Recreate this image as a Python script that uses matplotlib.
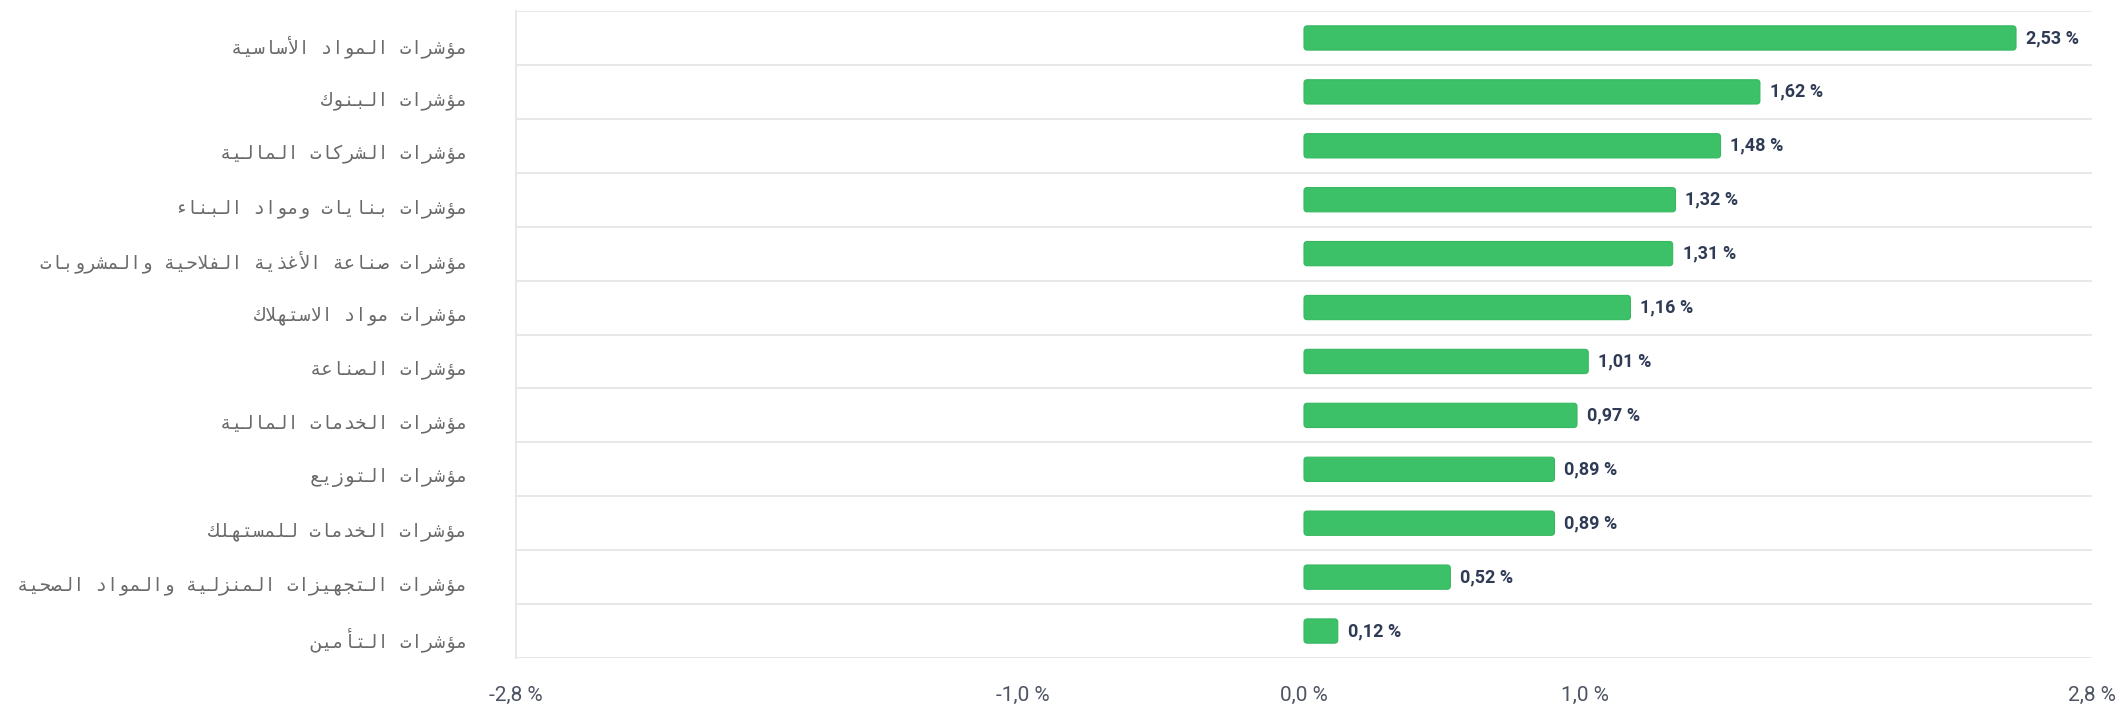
import matplotlib
matplotlib.use("Agg")
import matplotlib.pyplot as plt
import matplotlib.transforms as mtransforms
from matplotlib import font_manager
from matplotlib.patches import FancyBboxPatch

labels = [
    "مؤشرات المواد الأساسية",
    "مؤشرات البنوك",
    "مؤشرات الشركات المالية",
    "مؤشرات بنايات ومواد البناء",
    "مؤشرات صناعة الأغذية الفلاحية والمشروبات",
    "مؤشرات مواد الاستهلاك",
    "مؤشرات الصناعة",
    "مؤشرات الخدمات المالية",
    "مؤشرات التوزيع",
    "مؤشرات الخدمات للمستهلك",
    "مؤشرات التجهيزات المنزلية والمواد الصحية",
    "مؤشرات التأمين",
]
values = [2.53, 1.62, 1.48, 1.32, 1.31, 1.16, 1.01, 0.97, 0.89, 0.89, 0.52, 0.12]
xticks = [-2.8, -1.0, 0.0, 1.0, 2.8]

# minimal arabic shaping (presentation forms B), matplotlib has no shaper
DUAL = {"ئ": 0xFE89, "ب": 0xFE8F, "ت": 0xFE95, "ث": 0xFE99, "ج": 0xFE9D, "ح": 0xFEA1,
        "خ": 0xFEA5, "س": 0xFEB1, "ش": 0xFEB5, "ص": 0xFEB9, "ض": 0xFEBD, "ط": 0xFEC1,
        "ظ": 0xFEC5, "ع": 0xFEC9, "غ": 0xFECD, "ف": 0xFED1, "ق": 0xFED5, "ك": 0xFED9,
        "ل": 0xFEDD, "م": 0xFEE1, "ن": 0xFEE5, "ه": 0xFEE9, "ي": 0xFEF1}
RIGHT = {"آ": 0xFE81, "أ": 0xFE83, "ؤ": 0xFE85, "إ": 0xFE87, "ا": 0xFE8D, "ة": 0xFE93,
         "د": 0xFEA9, "ذ": 0xFEAB, "ر": 0xFEAD, "ز": 0xFEAF, "و": 0xFEED, "ى": 0xFEEF,
         "ﻻ": 0xFEFB, "ﻷ": 0xFEF7}
LIG = {"ا": "ﻻ", "أ": "ﻷ"}


def shape(s):
    chars = []
    i = 0
    while i < len(s):
        if s[i] == "ل" and i + 1 < len(s) and s[i + 1] in LIG:
            chars.append(LIG[s[i + 1]])
            i += 2
        else:
            chars.append(s[i])
            i += 1
    out = []
    for k, c in enumerate(chars):
        prev = chars[k - 1] if k > 0 else None
        nxt = chars[k + 1] if k + 1 < len(chars) else None
        jp = prev in DUAL
        if c in DUAL:
            jn = nxt in DUAL or nxt in RIGHT
            out.append(chr(DUAL[c] + (1 if jp else 0) + (2 if jn else 0)))
        elif c in RIGHT:
            out.append(chr(RIGHT[c] + (1 if jp else 0)))
        else:
            out.append(c)
    return "".join(out[::-1])


names = {f.name for f in font_manager.fontManager.ttflist}
num_font = "Liberation Sans Narrow" if "Liberation Sans Narrow" in names else "Roboto"

fig = plt.figure(figsize=(21.23, 7.10), dpi=100)
ax = fig.add_axes([516 / 2123, 1 - 658 / 710, (2092 - 516) / 2123, (658 - 11) / 710])

y = list(range(len(labels)))
bars = ax.barh(y, values, height=0.45, color="#3cc068")
for b in bars:
    x0, y0 = b.get_x(), b.get_y()
    w, h = b.get_width(), b.get_height()
    b.set_visible(False)
    ax.add_patch(FancyBboxPatch((x0, y0), w, h, boxstyle="round,pad=0,rounding_size=0.012",
                                mutation_aspect=5.0, fc="#3cc068", ec="#35b85f", lw=0.8))

for yi, v in zip(y, values):
    ax.text(v + 0.035, yi, ("%.2f" % v).replace(".", ",") + " %", va="center", ha="left",
            fontsize=13, fontweight="bold", color="#2f3a55", family=num_font)

ax.set_xlim(-2.8, 2.8)
ax.set_ylim(len(labels) - 0.5, -0.5)
ax.set_xticks(xticks)
ax.set_xticklabels([("%.1f" % t).replace(".", ",") + " %" for t in xticks],
                   fontsize=15, color="#4d5462", family=num_font)
ax.set_yticks(y)
ax.set_yticklabels([shape(l) for l in labels], fontsize=13.5, color="#6a6a6a",
                   family=["DejaVu Sans Mono", "DejaVu Sans"])
ax.tick_params(axis="x", length=0, pad=20)
ax.tick_params(axis="y", length=0, pad=35)
# labels sit a bit below the bar centre in the original
shift = mtransforms.ScaledTranslation(0, -0.06, fig.dpi_scale_trans)
for t in ax.get_yticklabels():
    t.set_transform(t.get_transform() + shift)
ax.set_yticks([i - 0.5 for i in range(len(labels) + 1)], minor=True)
ax.tick_params(axis="y", which="minor", length=0)
ax.grid(which="minor", axis="y", color="#e4e4e4", lw=1.2)
for s in ["top", "right", "bottom"]:
    ax.spines[s].set_visible(False)
ax.spines["left"].set_color("#e4e4e4")
ax.spines["left"].set_linewidth(1.2)

fig.savefig("out.png", dpi=100)
